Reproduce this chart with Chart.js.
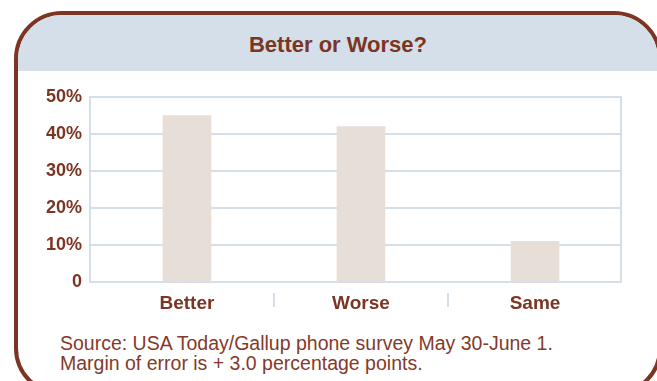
<!DOCTYPE html>
<html>
<head>
<meta charset="utf-8">
<script src="https://cdn.jsdelivr.net/npm/chart.js@4/dist/chart.umd.min.js"></script>
<style>
  html, body {
    margin: 0;
    padding: 0;
    background: #ffffff;
    width: 657px;
    height: 381px;
    overflow: hidden;
  }
  .frame {
    position: absolute;
    left: 14px;
    top: 11px;
    width: 648px;
    height: 385px;
    box-sizing: border-box;
    border: 4px solid #7b3522;
    border-radius: 48px;
    overflow: hidden;
  }
  .header {
    position: absolute;
    left: 0;
    top: 0;
    right: 0;
    height: 56px;
    background: #d5dfe9;
    color: #7b3522;
    font-family: "Liberation Sans", Arial, sans-serif;
    font-weight: bold;
    font-size: 22px;
    line-height: 60px;
    text-align: center;
  }
  .chart-wrap {
    position: absolute;
    left: 0;
    top: 71px;
    width: 657px;
    height: 240px;
  }
  .source {
    position: absolute;
    left: 60px;
    top: 333px;
    color: #843a2a;
    font-family: "Liberation Sans", Arial, sans-serif;
    font-size: 19.5px;
    line-height: 20px;
  }
</style>
</head>
<body>
<div class="frame">
  <div class="header">Better or Worse?</div>
</div>
<div class="chart-wrap"><canvas id="chart"></canvas></div>
<div class="source">Source: USA Today/Gallup phone survey May 30-June 1.<br>Margin of error is + 3.0 percentage points.</div>
<script>
// Data
const categories = ["Better", "Worse", "Same"];
const percentages = [45, 42, 11];
const yTicks = [0, 10, 20, 30, 40, 50];

const brown = "#7b3522";
const gridBlue = "#d5dfea";
const barColor = "#e8ded8";
const labelFont = "'Liberation Sans', Arial, sans-serif";

// Right edge of the box and the little separators between categories
const boxPlugin = {
  id: "boxLines",
  afterDraw: function (chart) {
    const ctx = chart.ctx;
    const area = chart.chartArea;
    const x = chart.scales.x;
    ctx.save();
    ctx.strokeStyle = gridBlue;
    ctx.lineWidth = 2;
    ctx.beginPath();
    ctx.moveTo(area.right, area.top - 1);
    ctx.lineTo(area.right, area.bottom + 1);
    ctx.stroke();
    for (let i = 0; i < categories.length - 1; i++) {
      const px = Math.round(x.getPixelForValue(i + 0.5));
      ctx.beginPath();
      ctx.moveTo(px, area.bottom + 11);
      ctx.lineTo(px, area.bottom + 25);
      ctx.stroke();
    }
    ctx.restore();
  },
};

const ctx = document.getElementById("chart").getContext("2d");
const chart = new Chart(ctx, {
  type: "bar",
  data: {
    datasets: [
      {
        data: categories.map(function (c, i) {
          return { x: i, y: percentages[i] };
        }),
        backgroundColor: barColor,
        borderWidth: 0,
        barThickness: 48,
      },
    ],
  },
  options: {
    responsive: true,
    maintainAspectRatio: false,
    animation: false,
    layout: {
      padding: { left: 0, right: 36, top: 26, bottom: 0 },
    },
    plugins: {
      legend: { display: false },
      tooltip: { enabled: false },
    },
    scales: {
      x: {
        type: "linear",
        offset: false,
        min: -0.557,
        max: 2.494,
        afterBuildTicks: function (scale) {
          scale.ticks = categories.map(function (c, i) {
            return { value: i };
          });
        },
        afterFit: function (scale) {
          scale.height = 29;
        },
        grid: { display: false },
        border: { display: false },
        ticks: {
          autoSkip: false,
          maxRotation: 0,
          padding: 2,
          color: brown,
          font: { family: labelFont, size: 19, weight: "bold" },
          callback: function (value) {
            return categories[value];
          },
        },
      },
      y: {
        min: 0,
        max: 50,
        afterBuildTicks: function (scale) {
          scale.ticks = yTicks.map(function (v) {
            return { value: v };
          });
        },
        afterFit: function (scale) {
          scale.width = 90;
        },
        grid: {
          color: gridBlue,
          lineWidth: 2,
          drawTicks: false,
        },
        border: { display: true, color: gridBlue, width: 2 },
        ticks: {
          padding: 8,
          color: brown,
          font: { family: labelFont, size: 18, weight: "bold" },
          callback: function (value) {
            return value === 0 ? "0" : value + "%";
          },
        },
      },
    },
  },
  plugins: [boxPlugin],
});
</script>
</body>
</html>
